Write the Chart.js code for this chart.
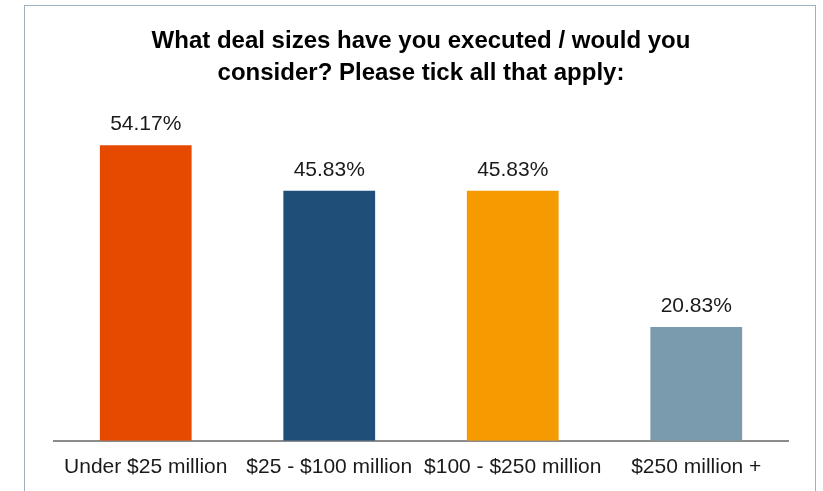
<!DOCTYPE html>
<html lang="en">
<head>
    <meta charset="UTF-8">
    <title>Deal sizes</title>
    <style>
        html, body { margin: 0; padding: 0; background: #fff; }
        #frame {
            position: absolute; left: 24px; top: 5px;
            width: 790px; height: 520px;
            border: 1px solid #9bb1c2;
        }
        #wrap { position: absolute; left: 0; top: 0; width: 823px; height: 491px; }
    </style>
</head>
<body>
    <div id="frame"></div>
    <div id="wrap">
        <canvas id="myChart"></canvas>
    </div>

    <script src="https://cdn.jsdelivr.net/npm/chart.js"></script>
    <script>
        const labels = ['Under $25 million', '$25 - $100 million', '$100 - $250 million', '$250 million +'];
        const shares = [54.17, 45.83, 45.83, 20.83];
        const colors = ['#e54a00', '#1f4e79', '#f59a00', '#7a9bad'];

        const font = 'Liberation Sans, Arial, sans-serif';

        // value labels above each bar
        const valueLabels = {
            id: 'valueLabels',
            afterDatasetsDraw(chart) {
                const ctx = chart.ctx;
                const meta = chart.getDatasetMeta(0);
                ctx.save();
                ctx.font = '21px ' + font;
                ctx.fillStyle = '#1a1a1a';
                ctx.textAlign = 'center';
                ctx.textBaseline = 'alphabetic';
                meta.data.forEach((bar, i) => {
                    ctx.fillText(shares[i].toFixed(2) + '%', bar.x, bar.y - 15);
                });
                ctx.restore();
            }
        };

        const ctx = document.getElementById('myChart');

        let chart = new Chart(ctx, {
            type: 'bar',
            data: {
                labels: labels,
                datasets: [{
                    data: shares,
                    backgroundColor: colors,
                    categoryPercentage: 1,
                    barPercentage: 0.5
                }]
            },
            plugins: [valueLabels],
            options: {
                responsive: true,
                maintainAspectRatio: false,
                animation: false,
                layout: {
                    padding: { left: 54, right: 35, top: 26, bottom: 5 }
                },
                scales: {
                    x: {
                        grid: { display: false },
                        border: { color: '#8c8c8c', width: 2 },
                        ticks: {
                            color: '#1a1a1a',
                            font: { family: font, size: 21 },
                            padding: 6,
                            maxRotation: 0
                        }
                    },
                    y: {
                        display: false,
                        min: 0,
                        max: 60
                    }
                },
                plugins: {
                    legend: { display: false },
                    tooltip: { enabled: false },
                    title: {
                        display: true,
                        text: ['What deal sizes have you executed / would you', 'consider? Please tick all that apply:'],
                        color: '#000',
                        font: { family: font, size: 24, weight: 'bold', lineHeight: 1.32 },
                        padding: { top: 0, bottom: 24 }
                    }
                }
            }
        });
    </script>
</body>
</html>
